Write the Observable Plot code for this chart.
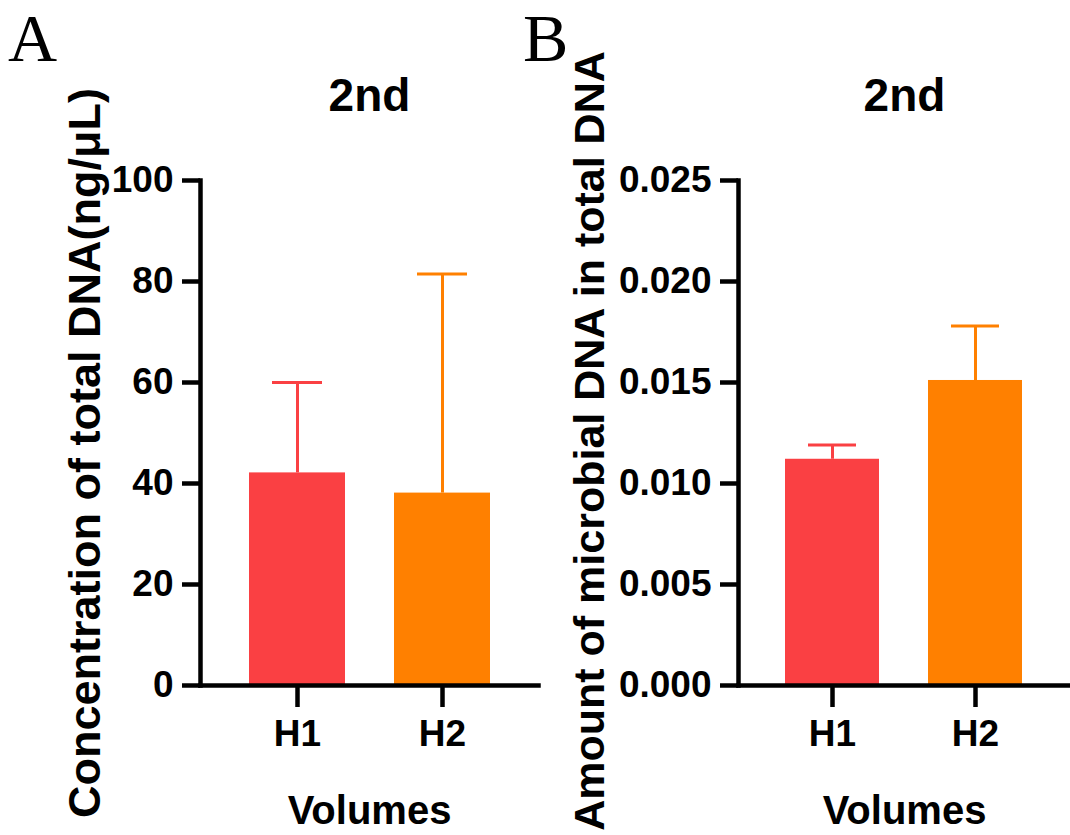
<!DOCTYPE html>
<html>
<head>
<meta charset="utf-8">
<script src="https://cdn.jsdelivr.net/npm/d3@7"></script>
<script src="https://cdn.jsdelivr.net/npm/@observablehq/plot@0.6"></script>
<style>
  html, body { margin: 0; padding: 0; background: #fff; }
  #wrap { position: relative; width: 1070px; height: 835px; overflow: hidden; background: #fff; }
  .panel { position: absolute; top: 0; }
  .letter { position: absolute; font-family: "Times New Roman", "Liberation Serif", "DejaVu Serif", serif; font-size: 68px; line-height: 1; color: #000; }
</style>
</head>
<body>
<div id="wrap">
  <div class="letter" style="left:8px; top:4px;">A</div>
  <div class="letter" style="left:523px; top:4px;">B</div>
  <div id="pa" class="panel" style="left:0px;"></div>
  <div id="pb" class="panel" style="left:535px;"></div>
</div>
<script>
// ---- data ----
const groups = ["H1", "H2"];
const barColors = ["#FA4043", "#FF8000"];
const concMean = [42.1, 38.1];
const concUpper = [60.0, 81.5];
const concTicks = [0, 20, 40, 60, 80, 100];
const microMean = [0.0112, 0.0151];
const microUpper = [0.0119, 0.0178];
const microTicks = [0, 0.005, 0.010, 0.015, 0.020, 0.025];
const panelTitle = "2nd";
const xTitle = "Volumes";
const yTitleA = "Concentration of total DNA(ng/μL)";
const yTitleB = "Amount of microbial DNA in total DNA";

const FONT = "Arial, 'Liberation Sans', Helvetica, sans-serif";

function panel({mean, upper, ticks, yMax, tickFmt, yTitle, yTitleSize, width, marginLeft, marginRight, yTitleDx, yTitleDy}) {
  const rows = groups.map((g, i) => ({group: g, mean: mean[i], upper: upper[i]}));
  return Plot.plot({
    width, height: 835,
    marginLeft, marginRight, marginTop: 180, marginBottom: 150,
    style: {fontFamily: FONT, fontWeight: "bold", color: "#000", background: "transparent", overflow: "visible"},
    x: {domain: groups, paddingInner: 0.34, paddingOuter: 0.33, label: null},
    y: {domain: [0, yMax], label: null},
    color: {domain: groups, range: barColors},
    marks: [
      Plot.barY(rows, {x: "group", y: "mean", fill: "group"}),
      Plot.ruleX(rows, {x: "group", y1: "mean", y2: "upper", stroke: "group", strokeWidth: 3}),
      Plot.tickY(rows, {x: "group", y: "upper", stroke: "group", strokeWidth: 3, insetLeft: 23, insetRight: 23}),
      Plot.frame({anchor: "left", strokeWidth: 4.5, stroke: "#000"}),
      Plot.frame({anchor: "bottom", strokeWidth: 4.5, stroke: "#000"}),
      Plot.axisY({ticks, tickFormat: tickFmt, tickSize: 18, tickPadding: 9, fontSize: 37, fontWeight: "bold", strokeWidth: 4.5, label: null}),
      Plot.axisX({tickSize: 22, tickPadding: 12, fontSize: 37, fontWeight: "bold", strokeWidth: 4.5, label: null}),
      Plot.text([panelTitle], {text: d => d, frameAnchor: "top", lineAnchor: "middle", textAnchor: "middle", dy: -84, fontSize: 46, fontWeight: "bold"}),
      Plot.text([xTitle], {text: d => d, frameAnchor: "bottom", lineAnchor: "middle", textAnchor: "middle", dy: 126, fontSize: 40, fontWeight: "bold"}),
      Plot.text([yTitle], {text: d => d, frameAnchor: "left", lineAnchor: "middle", textAnchor: "middle", rotate: -90, dx: yTitleDx, dy: yTitleDy, fontSize: yTitleSize, fontWeight: "bold"})
    ]
  });
}

document.getElementById("pa").appendChild(panel({
  mean: concMean, upper: concUpper, ticks: concTicks, yMax: 100, tickFmt: d3.format("d"),
  yTitle: yTitleA, yTitleSize: 45, width: 540, marginLeft: 200, marginRight: 2, yTitleDx: -115, yTitleDy: 20
}));
document.getElementById("pb").appendChild(panel({
  mean: microMean, upper: microUpper, ticks: microTicks, yMax: 0.025, tickFmt: d3.format(".3f"),
  yTitle: yTitleB, yTitleSize: 43, width: 535, marginLeft: 203, marginRight: 0, yTitleDx: -148, yTitleDy: 8
}));
</script>
</body>
</html>
